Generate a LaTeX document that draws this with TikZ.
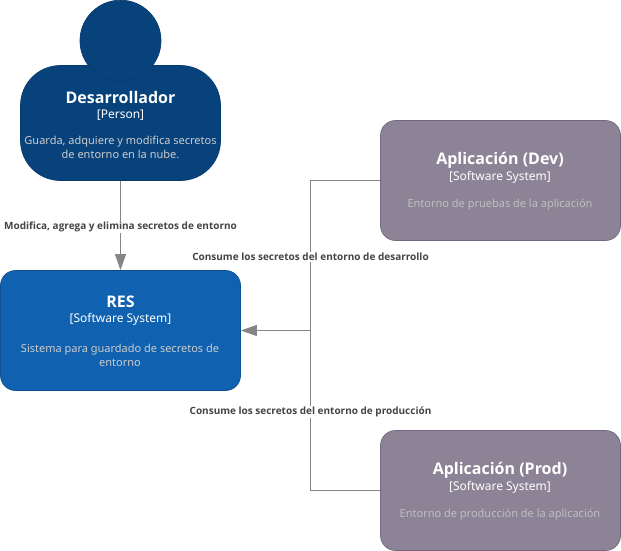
\documentclass[tikz,border=0pt]{standalone}
\usepackage{fontspec}
\setmainfont{Noto Sans}
\newfontfamily\headfont{Open Sans}
\usetikzlibrary{arrows.meta,positioning}
\definecolor{persfill}{HTML}{08427B}
\definecolor{persedge}{HTML}{073B6F}
\definecolor{resfill}{HTML}{1061B0}
\definecolor{resedge}{HTML}{0D5091}
\definecolor{extfill}{HTML}{8C8496}
\definecolor{extedge}{HTML}{736782}
\definecolor{edgecol}{HTML}{858585}
\definecolor{labcol}{HTML}{444444}
\definecolor{dimw}{HTML}{CCCCCC}
\tikzset{
  x=1pt,y=-1pt,
  box/.style={draw=#1,fill=#1,line width=0.7pt,rounded corners=15pt,minimum width=240pt,minimum height=120pt,inner sep=0pt},
  ttl/.style={font=\headfont\bfseries\fontsize{16}{18}\selectfont,text=white,inner sep=0pt,anchor=center},
  typ/.style={font=\fontsize{12}{14}\selectfont,text=white,inner sep=0pt,anchor=center},
  dsc/.style={font=\fontsize{11}{14}\selectfont,text=#1,inner sep=0pt,anchor=center,align=center},
  lab/.style={font=\headfont\bfseries\fontsize{10}{12}\selectfont,text=labcol,fill=white,inner sep=1pt,anchor=center},
  rel/.style={draw=edgecol,line width=0.9pt},
  tip/.style={-{Triangle[length=16pt,width=11pt,fill=edgecol,color=edgecol]}},
}
\begin{document}
\begin{tikzpicture}
\useasboundingbox (0,0) rectangle (621,551);
% person
\node[draw=persedge,fill=persfill,line width=0.7pt,rounded corners=40pt,minimum width=200pt,minimum height=115pt,inner sep=0pt] (dev) at (120.5,123) {};
\node[draw=persedge,fill=persfill,line width=0.7pt,circle,minimum size=81pt,inner sep=0pt] (head) at (120.5,40.7) {};
\node[ttl] (devt) at (120.5,97) {Desarrollador};
\node[typ] (devy) at (120.5,115) {[Person]};
\node[dsc=dimw] (devd) at (120.5,147) {Guarda, adquiere y modifica secretos\\de entorno en la nube.};
% software systems
\node[box=resedge,fill=resfill] (res) at (120.5,330.5) {};
\node[ttl] (rest) at (120.5,302) {RES};
\node[typ] (resy) at (120.5,319) {[Software System]};
\node[dsc=dimw] (resd) at (120,355) {Sistema para guardado de secretos de\\entorno};
\node[box=extedge,fill=extfill] (adev) at (500.5,180.5) {};
\node[ttl] (adevt) at (500,160) {Aplicación (Dev)};
\node[typ] (adevy) at (500,177) {[Software System]};
\node[dsc=dimw!80!extfill] (adevd) at (500,205) {Entorno de pruebas de la aplicación};
\node[box=extedge,fill=extfill] (aprod) at (500.5,490.5) {};
\node[ttl] (aprodt) at (500,470) {Aplicación (Prod)};
\node[typ] (aprody) at (500,487) {[Software System]};
\node[dsc=dimw!80!extfill] (aprodd) at (500,515) {Entorno de producción de la aplicación};
% connectors
\coordinate (jd) at (310.5,180.5);
\coordinate (jp) at (310.5,490.5);
\coordinate (jm) at (310.5,330.5);
\draw[rel,tip] (dev.south) -- (res.north);
\draw[rel] (adev.west) -- (jd) -- (jm);
\draw[rel] (aprod.west) -- (jp) -- (jm);
\draw[rel,tip] (jm) -- (res.east);
% labels
\node[lab] (l1) at (120.5,227) {Modifica, agrega y elimina secretos de entorno};
\node[lab] (l2) at (310.5,257) {Consume los secretos del entorno de desarrollo};
\node[lab] (l3) at (310.5,412) {Consume los secretos del entorno de producción};
\end{tikzpicture}
\end{document}
